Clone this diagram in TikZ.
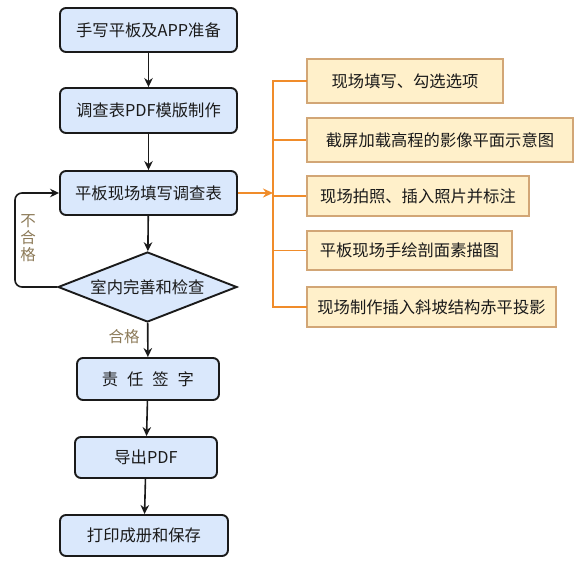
\documentclass[tikz,border=0pt]{standalone}
\usepackage{fontspec}
\setmainfont{Noto Sans CJK SC}
\usetikzlibrary{shapes.geometric,arrows.meta}
\definecolor{bfill}{HTML}{DAE8FC}
\definecolor{bline}{HTML}{1A1A1A}
\definecolor{yfill}{HTML}{FFF0CA}
\definecolor{yline}{HTML}{D2A676}
\definecolor{oline}{HTML}{F08C2A}
\definecolor{lbl}{HTML}{8C7A58}
\tikzset{
  bluebox/.style={draw=bline,line width=1.9pt,fill=bfill,rounded corners=6pt,inner sep=0pt,font=\fontsize{16.3}{19}\selectfont,text=bline},
  ybox/.style={draw=yline,line width=1.9pt,fill=yfill,inner sep=0pt,font=\fontsize{16.3}{19}\selectfont,text=bline},
  flow/.style={draw=bline,line width=1.6pt,-{Stealth[length=9pt,width=8.5pt]}},
  oflow/.style={draw=oline,line width=1.8pt},
  lab/.style={text=lbl,font=\fontsize{15.5}{17}\selectfont,inner sep=0pt,align=center}
}
\begin{document}
\begin{tikzpicture}[x=1pt,y=-1pt]
\useasboundingbox (0,0) rectangle (579,563);
\node[bluebox,minimum width=177pt,minimum height=44pt] (b1) at (148.5,30) {手写平板及APP准备};
\node[bluebox,minimum width=177pt,minimum height=45pt] (b2) at (148.5,110.5) {调查表PDF模版制作};
\node[bluebox,minimum width=177pt,minimum height=44pt] (b3) at (148.5,193) {平板现场填写调查表};
\node[draw=bline,line width=1.9pt,fill=bfill,diamond,aspect=2.56,inner sep=0pt,minimum width=179pt,minimum height=70pt,font=\fontsize{16.3}{19}\selectfont,text=bline] (d) at (147.5,287) {室内完善和检查};
\node[bluebox,minimum width=142pt,minimum height=42pt] (b4) at (148,379) {责\hspace{0.55em}任\hspace{0.55em}签\hspace{0.55em}字};
\node[bluebox,minimum width=142pt,minimum height=41pt] (b5) at (146,457.5) {导出PDF};
\node[bluebox,minimum width=168pt,minimum height=41pt] (b6) at (144,535.5) {打印成册和保存};

\node[ybox,minimum width=196pt,minimum height=44pt] (r1) at (405,81) {现场填写、勾选选项};
\node[ybox,minimum width=266pt,minimum height=44pt] (r2) at (440,140) {截屏加载高程的影像平面示意图};
\node[ybox,minimum width=222pt,minimum height=40pt] (r3) at (418,196) {现场拍照、插入照片并标注};
\node[ybox,minimum width=205pt,minimum height=39pt] (r4) at (409.5,250.5) {平板现场手绘剖面素描图};
\node[ybox,minimum width=249pt,minimum height=40pt] (r5) at (431.5,307) {现场制作插入斜坡结构赤平投影};

\draw[flow] (b1) -- (b2);
\draw[flow] (b2) -- (b3);
\draw[flow] (b3) -- (d);
\draw[flow] (d) -- (b4);
\draw[flow] (b4) -- (b5);
\draw[flow] (b5) -- (b6);

\coordinate (lp) at (15,240);
\draw[flow,rounded corners=7pt] (d.west) -| (lp) |- (b3.west);
\node[lab] (ng) at (28,238) {不\\合\\格};
\node[lab] (ok) at (124,337) {合格};

\coordinate (j) at (273,193);
\draw[oflow,line cap=rect] (r1.west) -- (r1.west -| j) -- (r5.west -| j) -- (r5.west);
\draw[oflow] (r2.west -| j) -- (r2.west);
\draw[oflow] (r3.west -| j) -- (r3.west);
\draw[oflow] (r4.west -| j) -- (r4.west);
\draw[oflow,-{Stealth[length=10pt,width=9pt]}] (b3.east) -- (j);
\end{tikzpicture}
\end{document}
